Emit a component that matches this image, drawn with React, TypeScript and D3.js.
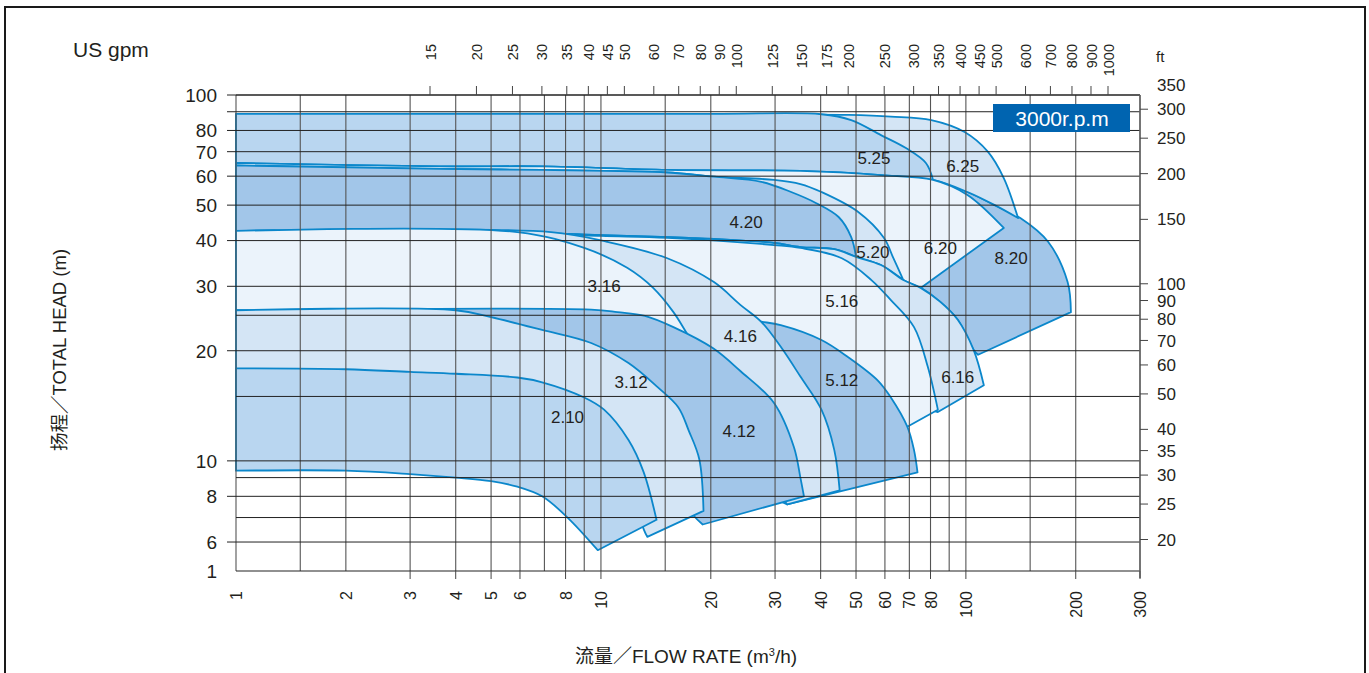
import React, { useEffect, useRef } from 'react';
import * as d3 from 'd3';

type Pt = [number, number]; // [flow m3/h, head m]

// axis values
const FLOW_TICKS = [1, 2, 3, 4, 5, 6, 8, 10, 20, 30, 40, 50, 60, 70, 80, 100, 200, 300];
const FLOW_GRID = [1, 1.5, 2, 3, 4, 5, 6, 7, 8, 9, 10, 15, 20, 30, 40, 50, 60, 70, 80, 90, 100, 150, 200, 300];
const HEAD_TICKS = [6, 8, 10, 20, 30, 40, 50, 60, 70, 80, 100];
const HEAD_GRID = [6, 7, 8, 9, 10, 15, 20, 25, 30, 40, 50, 60, 70, 80, 90, 100];
const HEAD_FLOOR = 5; // axis is broken here, printed as "1"
const HEAD_FLOOR_LABEL = '1';
const GPM_TICKS = [15, 20, 25, 30, 35, 40, 45, 50, 60, 70, 80, 90, 100, 125, 150, 175, 200, 250, 300, 350, 400, 450, 500, 600, 700, 800, 900, 1000];
const FT_TICKS = [20, 25, 30, 35, 40, 50, 60, 70, 80, 90, 100, 150, 200, 250, 300, 350];
const M_TO_FT = 3.2808;

// shared curves
const LINE25_BOTTOM: Pt[] = [[1, 65.2], [3.6, 63.8], [6.9, 63.8], [15.2, 62.4], [35.2, 62.0], [58.5, 60.4], [81.3, 58.6]];
const LINE20_TOP: Pt[] = [[1, 64.2], [3.6, 62.8], [6.9, 62.4], [15.2, 61.4], [20.4, 59.8]];
const LINE20_BOTTOM: Pt[] = [[1, 42.5], [3.6, 42.5], [10, 41.4], [15.2, 40.9], [20.4, 40.4], [29.8, 39.4], [35.2, 38.4], [43.6, 37.9], [50, 36.1], [58.5, 34.3], [67.4, 31.2], [75.2, 29.7], [85.1, 27.2], [95, 24.3], [105, 20.1], [112, 16.1]];

// pump ranges: top = max impeller, bottom = min impeller
const top525: Pt[] = [[1, 88.8], [20, 88.8], [40.2, 88.6], [48.5, 85.4], [58.5, 77.7], [68.5, 71.6], [77.7, 65.2], [81.3, 58.6]];
const bot525: Pt[] = LINE25_BOTTOM;
const top625: Pt[] = [[1, 88.8], [20, 88.8], [47.6, 88.2], [62.3, 87.3], [80.4, 85.4], [99.2, 79.2], [115, 69.9], [127, 59.3], [139, 46.1]];
const bot625: Pt[] = [...LINE25_BOTTOM, [101, 54.3], [120, 50.0], [139, 46.1]];

const top420: Pt[] = [...LINE20_TOP, [27.5, 57.9], [33.2, 54.3], [38.8, 50.7], [44.8, 46.4], [48.5, 40.9], [50, 36.1]];
const bot420: Pt[] = LINE20_BOTTOM.filter(d => d[0] <= 50);
const top520: Pt[] = [...LINE20_TOP, [29.8, 58.6], [35.2, 57.1], [40.2, 54.3], [50.7, 47.9], [59.6, 40.7], [63.3, 35.8], [67.4, 31.2]];
const bot520: Pt[] = LINE20_BOTTOM.filter(d => d[0] <= 67.4);
const top620: Pt[] = [...LINE25_BOTTOM, [101, 53.3], [127, 43.3]];
const bot620: Pt[] = LINE20_BOTTOM.filter(d => d[0] <= 75.2);
const top820: Pt[] = [...LINE25_BOTTOM, [101, 54.3], [120, 50.0], [141, 46.1], [168, 39.7], [190, 30.8], [194, 25.5]];
const bot820: Pt[] = [...LINE20_BOTTOM.filter(d => d[0] <= 105), [108, 19.5]];

const top316: Pt[] = [[1, 42.5], [5.9, 42.2], [9, 38.2], [11.8, 33.7], [13.9, 29.7], [15.8, 25.5], [17.3, 22.1], [18.8, 19.5]];
const bot316: Pt[] = [[1, 25.1], [13.7, 22.8], [18.8, 16.6]];
const top416: Pt[] = [[1, 42.5], [7.3, 42.2], [10.4, 39.7], [15.2, 35.8], [20.4, 30.8], [24.1, 26.7], [27.5, 24.0], [31.1, 20.5], [35.2, 17.0], [40.2, 13.8], [43.6, 10.7], [45.1, 8.3]];
const bot416: Pt[] = [[1, 25.1], [12.9, 22.8], [18.8, 15.6], [27.5, 9.4], [32.4, 7.6]];
const top516: Pt[] = [[1, 42.5], [3.6, 42.5], [10, 41.2], [15.2, 40.7], [29.8, 38.9], [35.2, 38.2], [45.7, 35.8], [55.1, 31.2], [62.3, 27.5], [72.1, 23.2], [78.6, 18.1], [83.8, 13.8]];
const bot516: Pt[] = [[1, 25.2], [13.7, 24.3], [27.5, 21.4], [40.2, 15.6], [58.5, 12.9], [69.1, 12.4]];
const top616: Pt[] = LINE20_BOTTOM;
const bot616: Pt[] = [[1, 25.5], [10, 25.1], [31.1, 22.8], [48.5, 17.6], [66.3, 14.7], [83.8, 13.6]];

const top210: Pt[] = [[1, 17.9], [2, 17.8], [3, 17.5], [4, 17.3], [5.9, 16.9], [6.9, 16.4], [9, 14.9], [10.2, 13.8], [11.9, 11.4], [13.1, 9.3], [14.2, 6.9]];
const bot210: Pt[] = [[1, 9.4], [2, 9.4], [3, 9.2], [4, 9.0], [5, 8.8], [5.9, 8.5], [6.9, 8.0], [8.1, 7.0], [9.8, 5.7]];
const top312: Pt[] = [[1, 25.8], [4, 25.8], [5, 24.7], [6.9, 22.8], [9.4, 21.0], [11.9, 18.5], [14.3, 15.9], [16.3, 14.0], [17.4, 12.1], [18.6, 10.1], [19.1, 7.3]];
const bot312: Pt[] = [[1, 13.8], [5.9, 13.8], [9, 12.1], [11.8, 8.9], [13.1, 6.5], [13.4, 6.2]];
const top412: Pt[] = [[1, 25.8], [9.4, 25.9], [11.1, 25.5], [13.2, 24.9], [15.8, 23.2], [20.3, 20.3], [24.1, 17.6], [29.8, 14.4], [33.8, 10.9], [35.2, 9.0], [36, 8.0]];
const bot412: Pt[] = [[1, 24.3], [5.3, 22.8], [10, 14.7], [14.6, 9.4], [17.9, 7.1], [19, 6.7]];
const top512: Pt[] = [[1, 25.8], [10, 25.8], [18.8, 25.1], [27.5, 24.0], [31.1, 23.5], [40.2, 21.4], [47.6, 19.2], [57.3, 16.6], [62.3, 14.9], [69.1, 12.4], [72.1, 10.7], [73.7, 9.3]];
const bot512: Pt[] = [[1, 22.8], [10, 18.9], [16.5, 12.9], [24.1, 8.9], [32.4, 7.6]];

const SHADES: Record<string, string> = {
    vlight: '#ebf3fb',
    light: '#d4e5f5',
    mid: '#b9d6f0',
    dark: '#a2c6e9',
};

// drawn bottom to top
const PUMPS = [
    { name: '8.20', top: top820, bottom: bot820, shade: 'dark', at: [133, 35.8] },
    { name: '6.25', top: top625, bottom: bot625, shade: 'light', at: [98, 64] },
    { name: '5.25', top: top525, bottom: bot525, shade: 'mid', at: [56, 67.3] },
    { name: '6.20', top: top620, bottom: bot620, shade: 'vlight', at: [85.1, 38.2] },
    { name: '5.20', top: top520, bottom: bot520, shade: 'light', at: [55.6, 37.2] },
    { name: '4.20', top: top420, bottom: bot420, shade: 'dark', at: [25, 45] },
    { name: '6.16', top: top616, bottom: bot616, shade: 'light', at: [95, 16.95] },
    { name: '5.16', top: top516, bottom: bot516, shade: 'vlight', at: [45.7, 27.3] },
    { name: '5.12', top: top512, bottom: bot512, shade: 'dark', at: [45.7, 16.6] },
    { name: '4.16', top: top416, bottom: bot416, shade: 'light', at: [24.1, 22.0] },
    { name: '3.16', top: top316, bottom: bot316, shade: 'vlight', at: [10.2, 30.1] },
    { name: '4.12', top: top412, bottom: bot412, shade: 'dark', at: [23.9, 12.1] },
    { name: '3.12', top: top312, bottom: bot312, shade: 'light', at: [12.1, 16.4] },
    { name: '2.10', top: top210, bottom: bot210, shade: 'mid', at: [8.1, 13.2] },
];

const FONT = '"Liberation Sans", Arial, Helvetica, "Noto Sans CJK SC", sans-serif';
const CURVE = '#0b87cb';

export default function App() {
    const svgRef = useRef<SVGSVGElement>(null);

    useEffect(() => {
        if (!svgRef.current) return;
        document.body.style.margin = '0';
        const svg = d3.select(svgRef.current);
        svg.selectAll('*').remove();

        const x = d3.scaleLog().domain([1, 300]).range([236, 1140]);
        const y = d3.scaleLog().domain([HEAD_FLOOR, 100]).range([571, 95]);
        const gpmX = d3.scaleLog().domain([15, 1000]).range([430, 1108]);
        const [x0, x1] = x.range();
        const [yBot, yTop] = y.range();

        const line = d3.line<Pt>()
            .x(d => x(d[0]))
            .y(d => y(d[1]))
            .curve(d3.curveCatmullRom.alpha(0.5));
        const region = (top: Pt[], bottom: Pt[]) =>
            line(top) + 'L' + (line(bottom.slice().reverse()) as string).slice(1) + 'Z';

        // pump regions
        const regions = svg.append('g');
        PUMPS.forEach(p => {
            regions.append('path')
                .attr('d', region(p.top, p.bottom))
                .attr('fill', SHADES[p.shade])
                .attr('stroke', CURVE)
                .attr('stroke-width', 1.8)
                .attr('stroke-linejoin', 'round');
        });

        // grid
        const grid = svg.append('g');
        FLOW_GRID.forEach(v => {
            grid.append('line')
                .attr('x1', x(v)).attr('x2', x(v))
                .attr('y1', yTop).attr('y2', yBot)
                .attr('stroke', '#555').attr('stroke-width', 1.1);
        });
        HEAD_GRID.forEach(v => {
            grid.append('line')
                .attr('x1', x0).attr('x2', x1)
                .attr('y1', y(v)).attr('y2', y(v))
                .attr('stroke', '#222').attr('stroke-width', 1);
        });
        // frame
        grid.append('line').attr('x1', x0).attr('x2', x1).attr('y1', yTop).attr('y2', yTop).attr('stroke', '#222').attr('stroke-width', 1.2);
        grid.append('line').attr('x1', x0).attr('x2', x1).attr('y1', yBot).attr('y2', yBot).attr('stroke', '#222').attr('stroke-width', 1.2);
        grid.append('line').attr('x1', x1).attr('x2', x1).attr('y1', yTop).attr('y2', yBot + 7).attr('stroke', '#666').attr('stroke-width', 1.5);

        const axes = svg.append('g')
            .style('font-family', FONT)
            .attr('fill', '#231f20');

        // left axis (m)
        [...HEAD_TICKS, 90].forEach(v => {
            axes.append('line').attr('x1', x0 - 9).attr('x2', x0).attr('y1', y(v)).attr('y2', y(v)).attr('stroke', '#222');
        });
        HEAD_TICKS.forEach(v => {
            axes.append('text')
                .attr('x', x0 - 19).attr('y', y(v)).attr('dy', '0.36em')
                .attr('text-anchor', 'end').style('font-size', '19px')
                .text(v);
        });
        axes.append('text')
            .attr('x', x0 - 19).attr('y', y(HEAD_FLOOR)).attr('dy', '0.36em')
            .attr('text-anchor', 'end').style('font-size', '19px')
            .text(HEAD_FLOOR_LABEL);

        // bottom axis (m3/h)
        FLOW_TICKS.filter(v => v > 2).forEach(v => {
            axes.append('line').attr('x1', x(v)).attr('x2', x(v)).attr('y1', yBot).attr('y2', yBot + 8).attr('stroke', '#444');
        });
        FLOW_TICKS.forEach(v => {
            axes.append('text')
                .attr('transform', `translate(${x(v)},${yBot + 20}) rotate(-90)`)
                .attr('dy', '0.38em')
                .attr('text-anchor', 'end').style('font-size', '16px')
                .text(v);
        });

        // top axis (US gpm)
        GPM_TICKS.forEach(v => {
            axes.append('line').attr('x1', gpmX(v)).attr('x2', gpmX(v)).attr('y1', yTop - 9).attr('y2', yTop).attr('stroke', '#444');
            axes.append('text')
                .attr('transform', `translate(${gpmX(v)},44) rotate(-90)`)
                .attr('dy', '0.38em')
                .attr('text-anchor', 'end').style('font-size', '14.5px')
                .text(v);
        });
        axes.append('text').attr('x', 73).attr('y', 57).style('font-size', '21px').text('US gpm');

        // right axis (ft)
        FT_TICKS.forEach(v => {
            const yy = y(v / M_TO_FT);
            if (yy >= yTop) {
                axes.append('line').attr('x1', x1).attr('x2', x1 + 8).attr('y1', yy).attr('y2', yy).attr('stroke', '#444');
            }
            axes.append('text')
                .attr('x', x1 + 17).attr('y', yy).attr('dy', '0.36em')
                .style('font-size', '17px')
                .text(v);
        });
        axes.append('text').attr('x', 1156).attr('y', 62).style('font-size', '15px').text('ft');

        // model labels
        const labels = svg.append('g').style('font-family', FONT).attr('fill', '#231f20');
        PUMPS.forEach(p => {
            labels.append('text')
                .attr('x', x(p.at[0])).attr('y', y(p.at[1])).attr('dy', '0.36em')
                .attr('text-anchor', 'middle').style('font-size', '17px')
                .text(p.name);
        });

        // speed badge
        svg.append('rect').attr('x', 993).attr('y', 104).attr('width', 137).attr('height', 28).attr('fill', '#0064b0');
        svg.append('text')
            .attr('x', 1062).attr('y', 118).attr('dy', '0.36em')
            .attr('text-anchor', 'middle')
            .style('font-family', FONT).style('font-size', '21px')
            .attr('fill', '#fff')
            .text('3000r.p.m');

        // axis titles
        svg.append('text')
            .attr('transform', 'translate(66,350) rotate(-90)')
            .attr('text-anchor', 'middle')
            .style('font-family', FONT).style('font-size', '18.5px')
            .attr('fill', '#231f20')
            .text('扬程／TOTAL HEAD (m)');
        const xt = svg.append('text')
            .attr('x', 686).attr('y', 663)
            .attr('text-anchor', 'middle')
            .style('font-family', FONT).style('font-size', '19px')
            .attr('fill', '#231f20');
        xt.append('tspan').text('流量／FLOW RATE (m');
        xt.append('tspan').attr('dy', -7).style('font-size', '11px').text('3');
        xt.append('tspan').attr('dy', 7).text('/h)');

        // outer border
        svg.append('rect')
            .attr('x', 5).attr('y', 7).attr('width', 1360).attr('height', 680)
            .attr('fill', 'none').attr('stroke', '#1a1a1a').attr('stroke-width', 2);
    }, []);

    return <svg ref={svgRef} width={1369} height={673} style={{ display: 'block' }} />;
}
